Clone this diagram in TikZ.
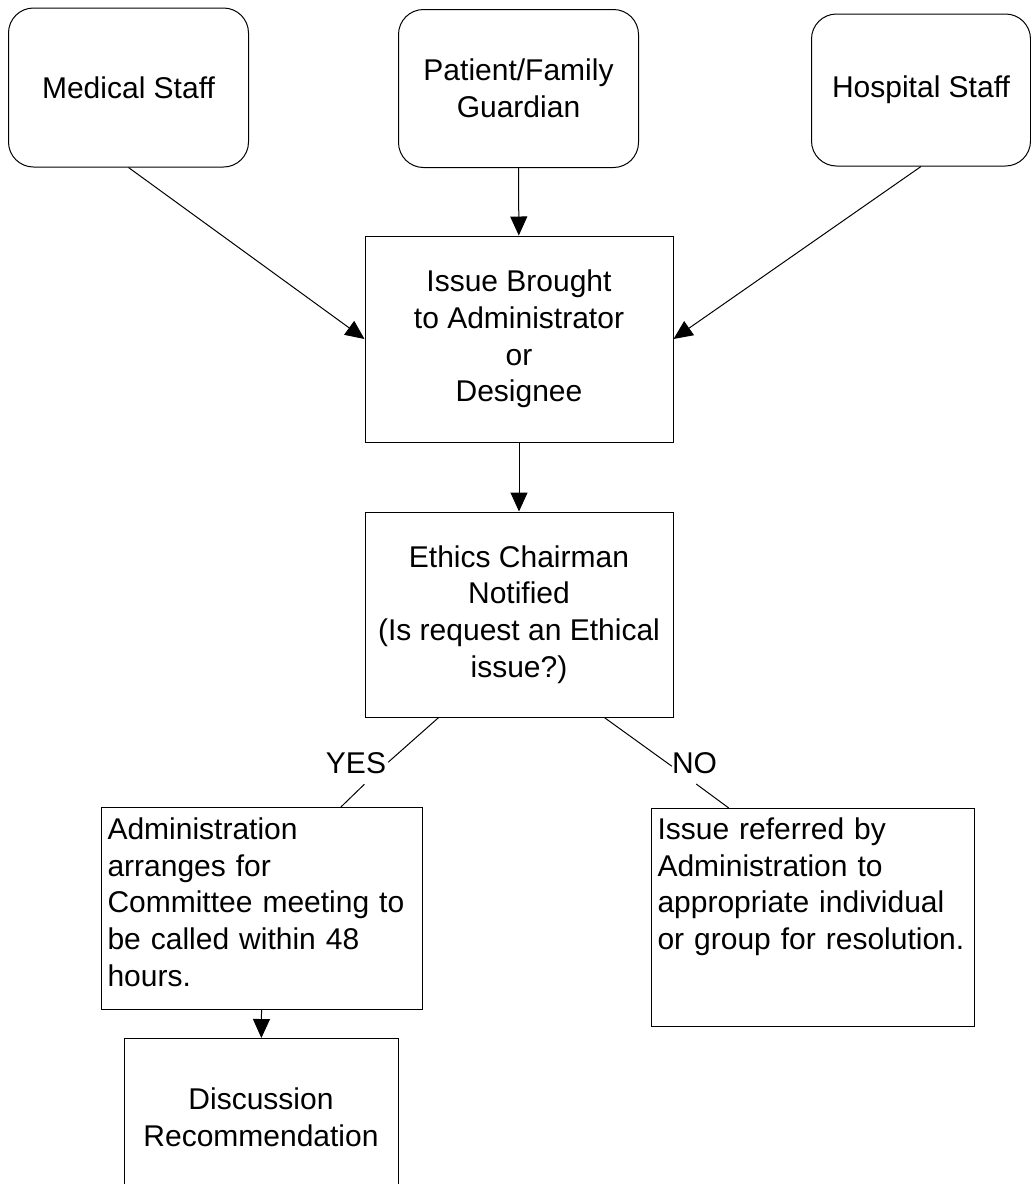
\documentclass[tikz,border=0pt]{standalone}
\usepackage{fontspec}
\setmainfont{Liberation Sans}
\usetikzlibrary{arrows.meta,calc}
\newcommand{\chartfont}{\fontsize{30}{36.7}\selectfont}
\tikzset{
  srcbox/.style={draw,rounded corners=25pt,line width=1pt,font=\chartfont,align=center,inner sep=0pt},
  stepbox/.style={draw,line width=1pt,font=\chartfont,align=center,inner sep=0pt},
  notebox/.style={draw,line width=1pt,font=\chartfont,align=left,inner xsep=6pt,inner ysep=7pt,anchor=north west},
  gap/.style={inner sep=0pt,minimum width=24pt,minimum height=22pt},
  answer/.style={font=\chartfont,inner sep=0pt},
  arr/.style={line width=1pt,-{Triangle[length=19pt,width=17pt]}}
}
\begin{document}
\begin{tikzpicture}[x=1pt,y=-1pt]
  \useasboundingbox (0,0) rectangle (1031,1184);
  % Who can raise an issue
  \node[srcbox,minimum width=240pt,minimum height=159pt] (med) at (128.5,87.5) {Medical Staff};
  \node[srcbox,minimum width=240pt,minimum height=158pt] (pat) at (518.5,88.5) {Patient/Family\\Guardian};
  \node[srcbox,minimum width=219pt,minimum height=152pt] (hosp) at (921,90) {Hospital Staff};
  % Main steps
  \node[stepbox,minimum width=308pt,minimum height=206pt] (issue) at (519,339) {Issue Brought\\to Administrator\\or\\Designee};
  \node[stepbox,minimum width=308pt,minimum height=205pt] (ethics) at (519,614.5) {Ethics Chairman\\Notified\\(Is request an Ethical\\issue?)};
  % Outcomes
  \node[notebox,text width=309pt,text height=25pt,text depth=163pt] (admin) at (101,807) {Administration\\arranges for\\Committee meeting to\\be called within 48\\hours.};
  \node[notebox,text width=311pt,text height=24pt,text depth=180pt] (referred) at (651,808) {Issue referred by\\Administration to\\appropriate individual\\or group for resolution.};
  \node[stepbox,minimum width=274pt,minimum height=158pt,anchor=north] (disc) at (261,1038) {Discussion\\Recommendation};
  % YES / NO labels
  \node[gap] (yesgap) at (376,773) {};
  \node[gap] (nogap) at (684,775) {};
  \node[answer] (yes) at (356,763) {YES};
  \node[answer] (no) at (694.5,763) {NO};
  % Connectors
  \draw[arr] (med.south) -- (issue.west);
  \draw[arr] (pat) -- (issue);
  \draw[arr] (hosp.south) -- (issue.east);
  \draw[arr] (issue) -- (ethics);
  \draw[line width=1pt] ($(ethics.south west)!0.24!(ethics.south east)$) -- (yesgap);
  \draw[line width=1pt] (yesgap) -- ($(admin.north west)!0.745!(admin.north east)$);
  \draw[line width=1pt] ($(ethics.south west)!0.776!(ethics.south east)$) -- (nogap);
  \draw[line width=1pt] (nogap) -- ($(referred.north west)!0.24!(referred.north east)$);
  \draw[arr] (admin) -- (disc);
\end{tikzpicture}
\end{document}
